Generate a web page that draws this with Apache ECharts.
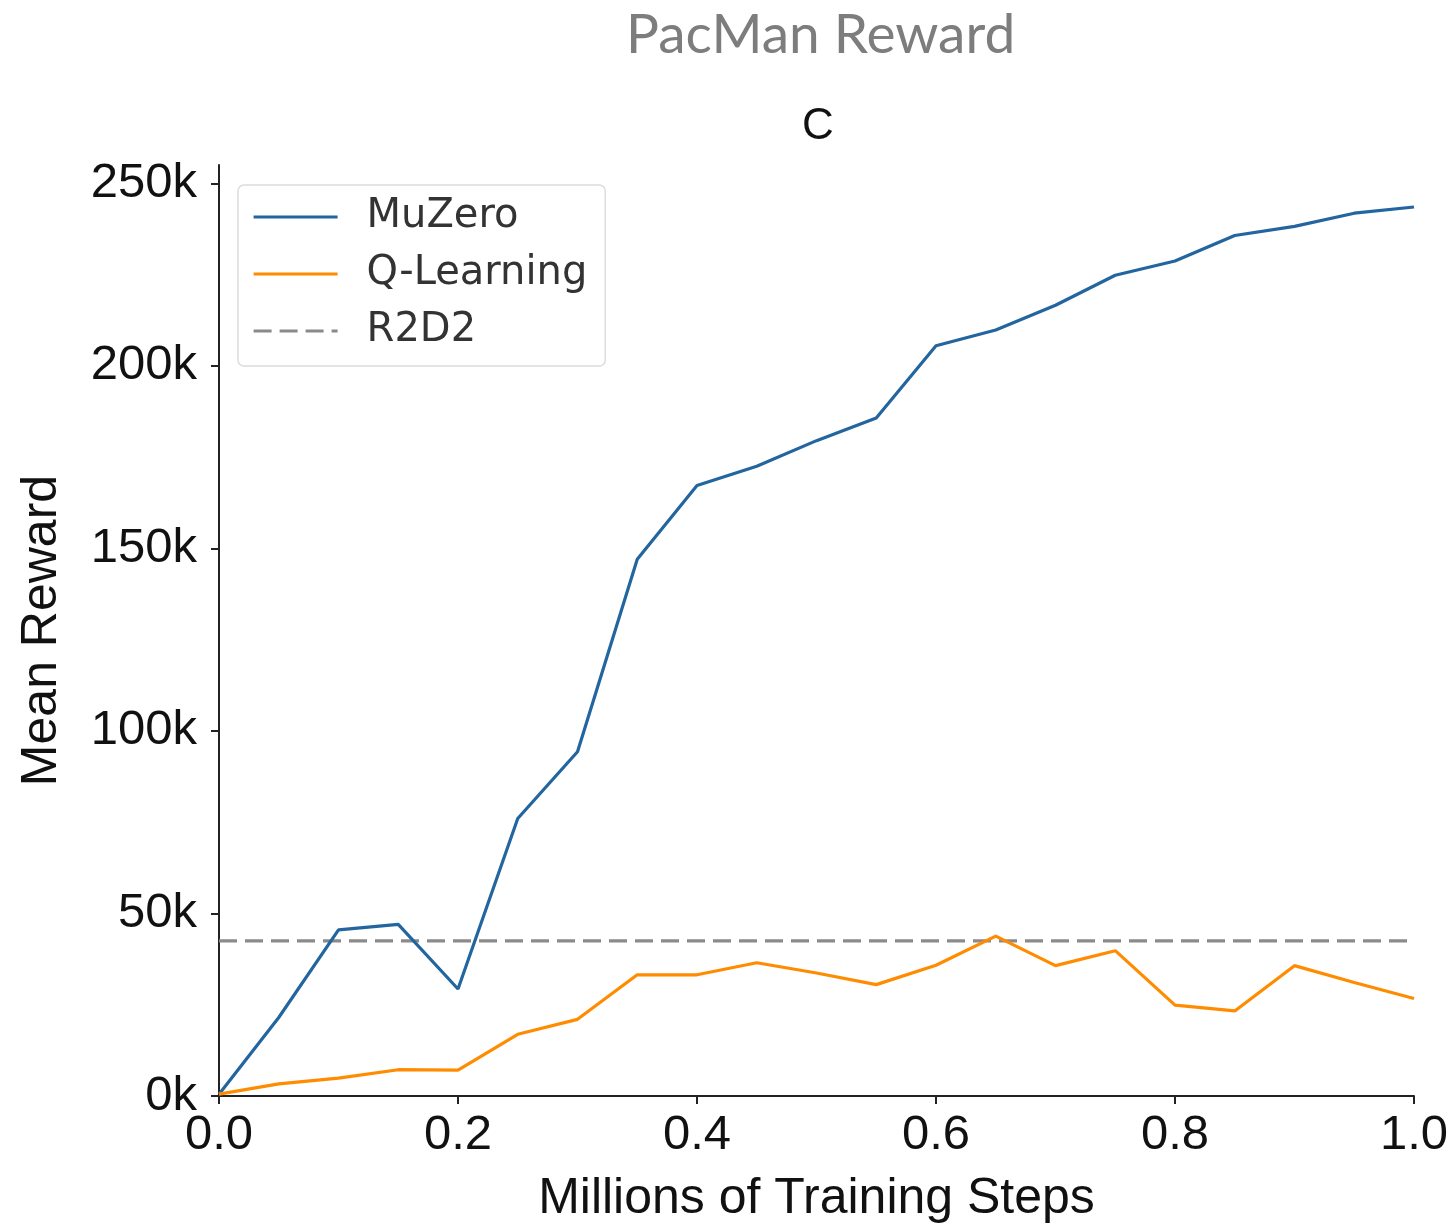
<!DOCTYPE html>
<html>
<head>
<meta charset="utf-8">
<script src="https://cdn.jsdelivr.net/npm/echarts@6/dist/echarts.min.js"></script>
<style>html,body{margin:0;padding:0;background:#fff;}#chart{width:1454px;height:1229px;}</style>
</head>
<body>
<div id="chart"></div>
<script>
// Training steps (millions)
const steps = [0.0, 0.05, 0.1, 0.15, 0.2, 0.25, 0.3, 0.35, 0.4, 0.45, 0.5, 0.55, 0.6, 0.65, 0.7, 0.75, 0.8, 0.85, 0.9, 0.95, 1.0];
// Mean reward values
const muzero = [500, 21500, 45500, 47000, 29300, 76000, 94300, 147000, 167200, 172500, 179500, 185700, 205500, 209800, 216600, 224800, 228700, 235700, 238200, 241800, 243500];
const qlearning = [500, 3300, 4900, 7200, 7100, 16900, 21000, 33200, 33200, 36500, 33700, 30500, 35800, 43800, 35700, 39800, 24900, 23300, 35700, 31100, 26700];
const r2d2Value = 42500;
const r2d2Span = [0.0, 1.0];
const yTicks = [0, 50000, 100000, 150000, 200000, 250000];
const xTicks = [0, 0.2, 0.4, 0.6, 0.8, 1.0];

const chart = echarts.init(document.getElementById('chart'), null, {renderer: 'canvas'});
const axisFont = '"Liberation Sans", Arial, sans-serif';
chart.setOption({
  animation: false,
  backgroundColor: '#fff',
  title: [
    {text: 'PacMan Reward', left: 621, top: 3,
     textStyle: {fontFamily: 'Lato, "Noto Sans", sans-serif', fontSize: 55, fontWeight: 'normal', color: '#7d7d7d'}},
    {text: 'C', left: 797, top: 100,
     textStyle: {fontFamily: axisFont, fontSize: 44, fontWeight: 'normal', color: '#111'}}
  ],
  legend: {
    orient: 'vertical', left: 238, top: 185,
    padding: [12, 18, 15, 14],
    itemWidth: 84, itemHeight: 14, itemGap: 17,
    backgroundColor: '#fff', borderColor: '#dcdcdc', borderWidth: 1.5, borderRadius: 6,
    itemStyle: {opacity: 0},
    lineStyle: {width: 3.2},
    textStyle: {fontFamily: '"DejaVu Sans", sans-serif', fontSize: 40, color: '#333', padding: [0, 0, 0, 24]},
    data: ['MuZero', 'Q-Learning', 'R2D2']
  },
  grid: {left: 219, right: 40, top: 165, bottom: 130, containLabel: false},
  xAxis: {
    type: 'value', min: 0, max: 1, interval: 0.2,
    name: 'Millions of Training Steps', nameLocation: 'middle', nameGap: 78,
    nameTextStyle: {fontFamily: axisFont, fontSize: 50, color: '#111'},
    axisLine: {lineStyle: {color: '#222', width: 2}},
    axisTick: {show: true, length: 8, lineStyle: {color: '#222', width: 2}, customValues: xTicks},
    axisLabel: {fontFamily: axisFont, fontSize: 49, color: '#111', margin: 15,
                customValues: xTicks, formatter: v => v.toFixed(1)},
    splitLine: {show: false}
  },
  yAxis: {
    type: 'value', min: 0, max: 255000, interval: 50000,
    name: 'Mean Reward', nameLocation: 'middle', nameGap: 152,
    nameTextStyle: {fontFamily: axisFont, fontSize: 50, color: '#111'},
    axisLine: {show: true, lineStyle: {color: '#222', width: 2}},
    axisTick: {show: true, length: 8, lineStyle: {color: '#222', width: 2}, customValues: yTicks},
    axisLabel: {fontFamily: axisFont, fontSize: 49, color: '#111', margin: 22,
                customValues: yTicks, formatter: v => (v / 1000) + 'k'},
    splitLine: {show: false}
  },
  series: [
    {name: 'MuZero', type: 'line', symbol: 'none', z: 3,
     lineStyle: {color: '#22659f', width: 3.2}, itemStyle: {color: '#22659f'},
     data: steps.map((s, i) => [s, muzero[i]])},
    {name: 'Q-Learning', type: 'line', symbol: 'none', z: 3,
     lineStyle: {color: '#ff8c00', width: 3.2}, itemStyle: {color: '#ff8c00'},
     data: steps.map((s, i) => [s, qlearning[i]])},
    {name: 'R2D2', type: 'line', symbol: 'none', z: 2,
     lineStyle: {color: '#8a8a8a', width: 3.2, type: [18, 8]}, itemStyle: {color: '#8a8a8a'},
     data: r2d2Span.map(s => [s, r2d2Value])}
  ]
});
</script>
</body>
</html>
